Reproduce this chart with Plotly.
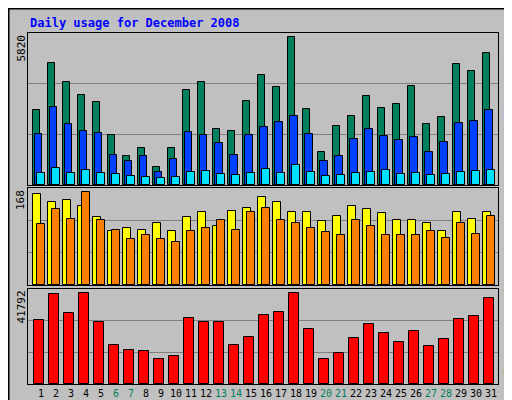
import plotly.graph_objects as go

days = list(range(1, 32))
hits = [2872, 4672, 3945, 3447, 3179, 1915, 1111, 1417, 689, 1417, 3638, 3945, 2145, 2068, 3217, 4213,
        3753, 5668, 2911, 1264, 2260, 2643, 3409, 2949, 3102, 3792, 2336, 2604, 4634, 4366, 5055]
files = [1953, 2987, 2336, 2068, 1992, 1149, 919, 1111, 498, 996, 2030, 1915, 1609, 1149, 1915, 2221,
         2413, 2643, 1953, 919, 1111, 1762, 2145, 1877, 1724, 1838, 1264, 1647, 2375, 2451, 2872]
pages = [460, 651, 460, 575, 460, 421, 345, 306, 268, 306, 498, 536, 421, 383, 460, 613,
         460, 766, 498, 345, 383, 460, 498, 575, 421, 460, 383, 421, 498, 536, 575]
visits = [157, 143, 148, 136, 117, 94, 98, 96, 107, 94, 117, 127, 103, 129, 134, 152,
          143, 126, 126, 110, 119, 136, 131, 124, 113, 112, 107, 94, 126, 115, 126]
sites = [105, 131, 115, 161, 113, 96, 80, 87, 79, 74, 93, 98, 112, 96, 126, 133,
         112, 107, 98, 91, 87, 112, 103, 86, 87, 86, 94, 82, 108, 89, 120]
kbytes = [28294, 39729, 31372, 40168, 27414, 17299, 15100, 14660, 11142, 12461, 29173, 27414, 27414, 17299, 20817, 30493,
          31812, 40168, 24336, 11142, 13780, 20377, 26535, 22576, 18618, 23456, 16859, 19938, 28734, 30053, 37969]
weekends = [6, 7, 13, 14, 20, 21, 27, 28]
max_hits, max_sites, max_kb = 5820, 168, 41792

BG = "#c0c0c0"
FONT = "DejaVu Sans Mono"

def bars(vals, off, w, color, ax):
    return go.Bar(x=[d + off for d in days], y=vals, width=w, marker=dict(color=color, line=dict(color="black", width=1)),
                  xaxis=ax[0], yaxis=ax[1], showlegend=False, hoverinfo="skip")

fig = go.Figure()
fig.add_trace(bars(hits, -0.3, 0.47, "#00805c", ("x", "y")))
fig.add_trace(bars(files, -0.17, 0.53, "#0040ff", ("x", "y")))
fig.add_trace(bars(pages, -0.03, 0.53, "#00e0ff", ("x", "y")))
fig.add_trace(bars(visits, -0.27, 0.53, "#ffff00", ("x2", "y2")))
fig.add_trace(bars(sites, 0.0, 0.53, "#ff8000", ("x2", "y2")))
fig.add_trace(bars(kbytes, -0.13, 0.67, "#ff0000", ("x3", "y3")))

xdom = [20 / 512, 490 / 512]
xr = [0.13, 31.46]
def yax(dom, mx):
    return dict(domain=dom, range=[0, mx], dtick=mx / 3, showticklabels=False, showgrid=True, gridcolor="#808080",
                gridwidth=1, zeroline=False, showline=True, linecolor="black", linewidth=1, mirror=True)
def xax(anchor, labels=False):
    d = dict(domain=xdom, range=xr, anchor=anchor, showgrid=False, zeroline=False, showline=True,
             linecolor="black", linewidth=1, mirror=True, showticklabels=labels, ticks="")
    if labels:
        d.update(tickvals=days, tickangle=0, ticklen=0,
                 ticktext=[f'<span style="color:#00805c">{d}</span>' if d in weekends else str(d) for d in days],
                 tickfont=dict(family=FONT, size=10, color="black"))
    return d

fig.update_layout(
    width=512, height=400, margin=dict(l=0, r=0, t=0, b=0), paper_bgcolor=BG, plot_bgcolor=BG,
    barmode="overlay", bargap=0,
    xaxis=xax("y"), xaxis2=xax("y2"), xaxis3=xax("y3", True),
    yaxis=yax([1 - 177 / 400, 1 - 25 / 400], max_hits),
    yaxis2=yax([1 - 277 / 400, 1 - 180 / 400], max_sites),
    yaxis3=yax([1 - 376 / 400, 1 - 281 / 400], max_kb),
)

anns = [
    dict(text="<b>Daily usage for December 2008</b>", x=20 / 512, y=1 - 15 / 400, xanchor="left", yanchor="middle",
         font=dict(family=FONT, size=12, color="#0000ff")),
    dict(text=str(max_hits), x=13 / 512, y=1 - 25 / 400, yanchor="top", textangle=-90),
    dict(text=str(max_sites), x=13 / 512, y=1 - 180 / 400, yanchor="top", textangle=-90),
    dict(text=str(max_kb), x=13 / 512, y=1 - 281 / 400, yanchor="top", textangle=-90),
    dict(text='<span style="color:#00e0ff">Pages</span> / <span style="color:#0040ff">Files</span> / '
              '<span style="color:#00805c">Hits</span>', x=500 / 512, y=1 - 100 / 400, yanchor="middle", textangle=-90),
    dict(text='<span style="color:#ff8000">Sites</span> / <span style="color:#ffff00">Visits</span>',
         x=500 / 512, y=1 - 240 / 400, yanchor="middle", textangle=-90),
    dict(text='<span style="color:#ff0000">KBytes</span>', x=500 / 512, y=1 - 354 / 400, yanchor="middle", textangle=-90),
]
for a in anns:
    a.setdefault("font", dict(family=FONT, size=11, color="black"))
    a.setdefault("xanchor", "center")
    a.update(xref="paper", yref="paper", showarrow=False)
fig.update_layout(annotations=anns)

fig.update_layout(shapes=[
    dict(type="rect", xref="paper", yref="paper", x0=506 / 512, x1=1, y0=0, y1=1, fillcolor="#808080", line_width=0, layer="below"),
    dict(type="rect", xref="paper", yref="paper", x0=0, x1=1, y0=0, y1=6 / 400, fillcolor="#808080", line_width=0, layer="below"),
    dict(type="rect", xref="paper", yref="paper", x0=0.001, x1=0.999, y0=0.001, y1=0.999, line=dict(color="black", width=2)),
])

fig.write_html("out.html")
